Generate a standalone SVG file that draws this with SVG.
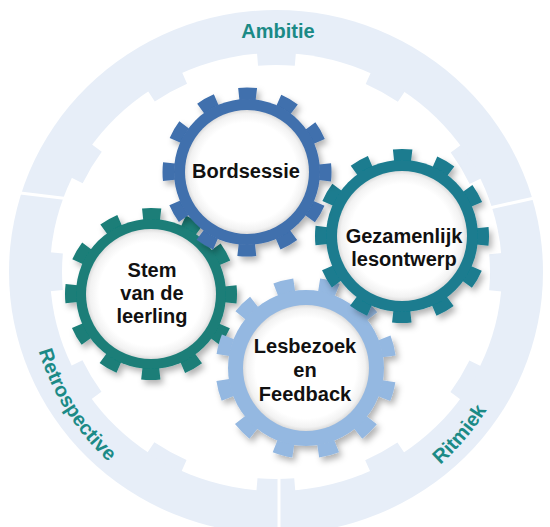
<svg xmlns="http://www.w3.org/2000/svg" width="550" height="527" viewBox="0 0 550 527">
  <defs>
    <filter id="shadow" x="-20%" y="-20%" width="145%" height="145%">
      <feDropShadow dx="3" dy="4" stdDeviation="3" flood-color="#000" flood-opacity="0.3"/>
    </filter>
    <radialGradient id="hole" cx="50%" cy="50%" r="50%">
      <stop offset="0" stop-color="#ffffff"/>
      <stop offset="0.8" stop-color="#ffffff"/>
      <stop offset="0.94" stop-color="#f2f2f2"/>
      <stop offset="1" stop-color="#dcdcdc"/>
    </radialGradient>
    <style>
      .ring { fill: #e7eef8; }
      .ringteeth { fill: none; stroke: #e7eef8; }
      .divider { stroke: #ffffff; stroke-width: 3; }
      .ringlabel { font-family: "Liberation Sans", Arial, sans-serif; font-weight: bold; font-size: 20px; fill: #1b8a86; }
      .label { font-family: "Liberation Sans", Arial, sans-serif; font-weight: bold; font-size: 20px; fill: #111111; text-anchor: middle; }
      .teeth { fill: none; }
      .hole { fill: url(#hole); }
    </style>
    <path id="arcLeft" d="M 30.3 245.3 A 248 248 0 0 0 200.2 515.1"/>
    <path id="arcRight" d="M 360.0 512.3 A 248 248 0 0 0 520.1 322.9"/>
  </defs>

  <!-- background ring -->
  <g id="ring">
    <ellipse class="ring" cx="276" cy="272" rx="267" ry="262"/>
    <ellipse cx="276" cy="272" rx="226" ry="219" fill="#ffffff"/>
    <ellipse class="ringteeth" cx="276" cy="272" rx="220.5" ry="213.5" stroke-width="13" stroke-dasharray="37.88 75.75" stroke-dashoffset="18.94"/>
    <line class="divider" x1="12" y1="192" x2="70" y2="199"/>
    <line class="divider" x1="552" y1="194" x2="485" y2="209"/>
    <line class="divider" x1="279" y1="470" x2="279" y2="527"/>
  </g>

  <g id="label-ambitie">
    <text class="ringlabel" x="278" y="38" text-anchor="middle">Ambitie</text>
  </g>
  <g id="label-retrospective">
    <text class="ringlabel" text-anchor="middle"><textPath href="#arcLeft" startOffset="50%">Retrospective</textPath></text>
  </g>
  <g id="label-ritmiek">
    <text class="ringlabel" text-anchor="middle"><textPath href="#arcRight" startOffset="50%">Ritmiek</textPath></text>
  </g>

  <!-- Stem van de leerling -->
  <g id="gear-stem">
    <g filter="url(#shadow)">
      <circle class="teeth" cx="151" cy="294" r="80" stroke="#1a7e78" stroke-width="12" stroke-dasharray="18.15 23.74" stroke-dashoffset="9.08"/>
      <circle cx="151" cy="294" r="75" fill="#1a7e78"/>
      <circle class="hole" cx="151" cy="294" r="65"/>
    </g>
    <text class="label" x="152" y="277">Stem</text>
    <text class="label" x="152" y="300">van de</text>
    <text class="label" x="152" y="323">leerling</text>
  </g>

  <!-- Lesbezoek en Feedback -->
  <g id="gear-lesbezoek">
    <g filter="url(#shadow)">
      <circle class="teeth" cx="306" cy="368" r="84" stroke="#94b8e1" stroke-width="13" stroke-dasharray="19.06 24.92" stroke-dashoffset="9.53" transform="rotate(15 306 368)"/>
      <circle cx="306" cy="368" r="78" fill="#94b8e1"/>
      <circle class="hole" cx="306" cy="368" r="63"/>
    </g>
    <text class="label" x="305" y="353">Lesbezoek</text>
    <text class="label" x="305" y="377">en</text>
    <text class="label" x="305" y="401">Feedback</text>
  </g>

  <!-- Gezamenlijk lesontwerp -->
  <g id="gear-gezamenlijk">
    <g filter="url(#shadow)">
      <circle class="teeth" cx="402" cy="236" r="81" stroke="#1a7c8f" stroke-width="12" stroke-dasharray="18.38 24.03" stroke-dashoffset="9.19"/>
      <circle cx="402" cy="236" r="76" fill="#1a7c8f"/>
      <circle class="hole" cx="402" cy="236" r="65"/>
    </g>
    <text class="label" x="404" y="243">Gezamenlijk</text>
    <text class="label" x="404" y="266">lesontwerp</text>
  </g>

  <!-- Bordsessie -->
  <g id="gear-bordsessie">
    <g filter="url(#shadow)">
      <circle class="teeth" cx="247" cy="172" r="78.5" stroke="#3f6fad" stroke-width="12" stroke-dasharray="17.81 23.29" stroke-dashoffset="8.91"/>
      <circle cx="247" cy="172" r="73" fill="#3f6fad"/>
      <circle class="hole" cx="247" cy="172" r="62"/>
    </g>
    <text class="label" x="246" y="178">Bordsessie</text>
  </g>
</svg>
